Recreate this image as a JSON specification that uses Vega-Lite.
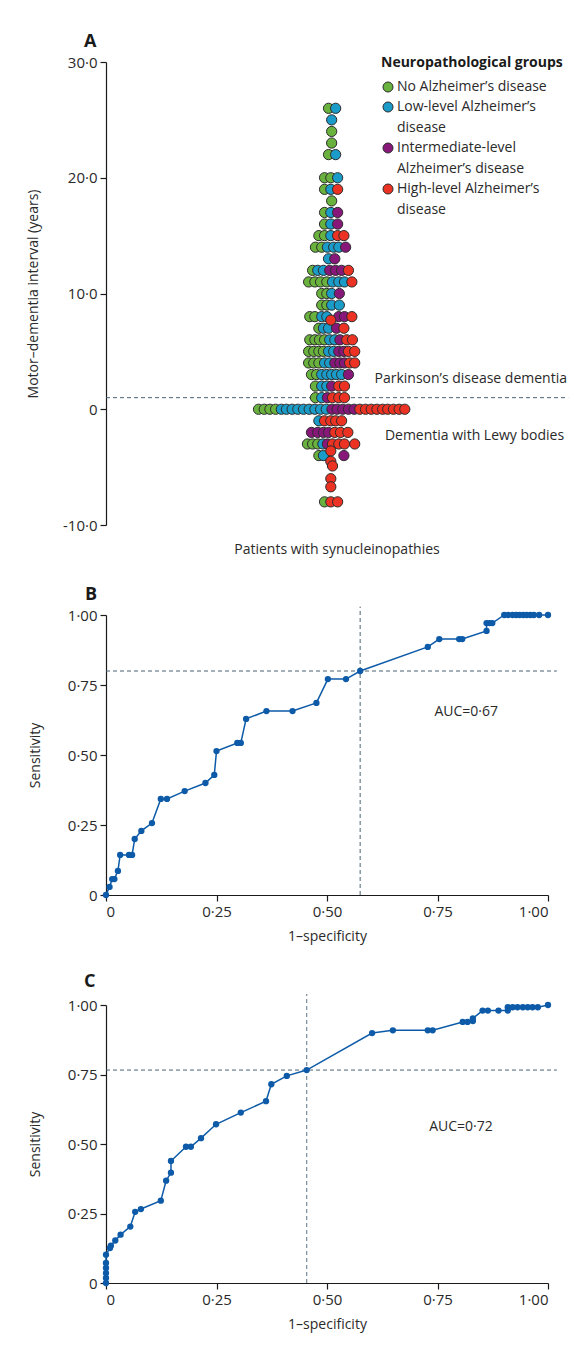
{
  "$schema": "https://vega.github.io/schema/vega-lite/v6.json",
  "background": "white",
  "padding": {"left": 26, "top": 33, "right": 5, "bottom": 5},
  "spacing": 30,
  "config": {
    "font": "Open Sans",
    "view": {"stroke": null},
    "axis": {"grid": false, "domainColor": "#1a1a1a", "tickColor": "#1a1a1a", "labelColor": "#2a2a2a", "titleColor": "#2a2a2a", "labelFontSize": 15, "titleFontSize": 14, "titleFontWeight": "normal", "tickSize": 6, "labelPadding": 3, "domainWidth": 1.2, "tickWidth": 1.2},
    "title": {"fontSize": 18, "fontWeight": "bold", "color": "#1a1a1a", "anchor": "start", "frame": "group"}
  },
  "vconcat": [
    {
      "width": 461,
      "height": 463,
      "title": {"text": "A", "dx": -22, "offset": 4},
      "data": {"values": [
        {"year": 26, "slot": -0.9, "group": "none"}, {"year": 26, "slot": 0.35, "group": "low"},
        {"year": 25, "slot": -0.35, "group": "low"},
        {"year": 24, "slot": -0.35, "group": "none"},
        {"year": 23, "slot": -0.35, "group": "none"},
        {"year": 22, "slot": -0.9, "group": "none"}, {"year": 22, "slot": 0.35, "group": "low"},
        {"year": 20, "slot": -1.6, "group": "none"}, {"year": 20, "slot": -0.5, "group": "none"}, {"year": 20, "slot": 0.7, "group": "low"},
        {"year": 19, "slot": -1.6, "group": "none"}, {"year": 19, "slot": -0.5, "group": "low"}, {"year": 19, "slot": 0.7, "group": "high"},
        {"year": 18, "slot": -0.35, "group": "none"},
        {"year": 17, "slot": -1.6, "group": "none"}, {"year": 17, "slot": -0.5, "group": "low"}, {"year": 17, "slot": 0.7, "group": "intermediate"},
        {"year": 16, "slot": -1.6, "group": "none"}, {"year": 16, "slot": -0.5, "group": "low"}, {"year": 16, "slot": 0.7, "group": "intermediate"},
        {"year": 15, "slot": -2.6, "group": "none"}, {"year": 15, "slot": -1.6, "group": "none"}, {"year": 15, "slot": -0.5, "group": "low"}, {"year": 15, "slot": 0.7, "group": "high"}, {"year": 15, "slot": 1.8, "group": "high"},
        {"year": 14, "slot": -3.2, "group": "none"}, {"year": 14, "slot": -2.1, "group": "none"}, {"year": 14, "slot": -1.1, "group": "low"}, {"year": 14, "slot": 0, "group": "low"}, {"year": 14, "slot": 0.9, "group": "low"}, {"year": 14, "slot": 2.1, "group": "intermediate"},
        {"year": 13, "slot": -0.9, "group": "low"}, {"year": 13, "slot": 0.2, "group": "intermediate"},
        {"year": 12, "slot": -3.7, "group": "none"}, {"year": 12, "slot": -2.8, "group": "low"}, {"year": 12, "slot": -1.8, "group": "low"}, {"year": 12, "slot": -0.7, "group": "intermediate"}, {"year": 12, "slot": 0.35, "group": "intermediate"}, {"year": 12, "slot": 1.4, "group": "intermediate"}, {"year": 12, "slot": 2.6, "group": "high"},
        {"year": 11, "slot": -4.4, "group": "none"}, {"year": 11, "slot": -3.3, "group": "none"}, {"year": 11, "slot": -2.3, "group": "none"}, {"year": 11, "slot": -1.2, "group": "none"}, {"year": 11, "slot": -0.2, "group": "low"}, {"year": 11, "slot": 0.9, "group": "low"}, {"year": 11, "slot": 1.9, "group": "low"}, {"year": 11, "slot": 3.2, "group": "high"},
        {"year": 10, "slot": -2.1, "group": "none"}, {"year": 10, "slot": -1.2, "group": "none"}, {"year": 10, "slot": -0.35, "group": "low"}, {"year": 10, "slot": 1.0, "group": "intermediate"},
        {"year": 9, "slot": -2.1, "group": "none"}, {"year": 9, "slot": -1.2, "group": "none"}, {"year": 9, "slot": -0.35, "group": "low"}, {"year": 9, "slot": 1.0, "group": "low"},
        {"year": 8, "slot": -4.2, "group": "none"}, {"year": 8, "slot": -3.3, "group": "none"}, {"year": 8, "slot": -2.1, "group": "low"}, {"year": 8, "slot": -1.2, "group": "low"}, {"year": 8, "slot": 0.9, "group": "intermediate"}, {"year": 8, "slot": 1.9, "group": "intermediate"}, {"year": 8, "slot": 3.2, "group": "high"},
        {"year": 7, "slot": -2.6, "group": "none"}, {"year": 7, "slot": -1.8, "group": "low"}, {"year": 7, "slot": -0.9, "group": "low"}, {"year": 7, "slot": 0.5, "group": "intermediate"}, {"year": 7, "slot": 1.8, "group": "high"},
        {"year": 6, "slot": -4.2, "group": "none"}, {"year": 6, "slot": -3.3, "group": "none"}, {"year": 6, "slot": -2.5, "group": "none"}, {"year": 6, "slot": -1.6, "group": "none"}, {"year": 6, "slot": -0.7, "group": "low"}, {"year": 6, "slot": 0.2, "group": "low"}, {"year": 6, "slot": 1.1, "group": "intermediate"}, {"year": 6, "slot": 2.3, "group": "high"}, {"year": 6, "slot": 3.3, "group": "high"},
        {"year": 5, "slot": -4.4, "group": "none"}, {"year": 5, "slot": -3.5, "group": "none"}, {"year": 5, "slot": -2.6, "group": "none"}, {"year": 5, "slot": -1.8, "group": "none"}, {"year": 5, "slot": -0.9, "group": "low"}, {"year": 5, "slot": 0, "group": "low"}, {"year": 5, "slot": 0.9, "group": "intermediate"}, {"year": 5, "slot": 1.8, "group": "intermediate"}, {"year": 5, "slot": 2.6, "group": "high"}, {"year": 5, "slot": 3.7, "group": "high"},
        {"year": 4, "slot": -4.4, "group": "none"}, {"year": 4, "slot": -3.5, "group": "none"}, {"year": 4, "slot": -2.6, "group": "none"}, {"year": 4, "slot": -1.6, "group": "low"}, {"year": 4, "slot": -0.7, "group": "low"}, {"year": 4, "slot": 0.2, "group": "intermediate"}, {"year": 4, "slot": 1.1, "group": "intermediate"}, {"year": 4, "slot": 1.9, "group": "intermediate"}, {"year": 4, "slot": 2.8, "group": "high"}, {"year": 4, "slot": 3.7, "group": "high"},
        {"year": 3, "slot": -3.9, "group": "none"}, {"year": 3, "slot": -3.0, "group": "none"}, {"year": 3, "slot": -2.1, "group": "low"}, {"year": 3, "slot": -1.2, "group": "low"}, {"year": 3, "slot": -0.35, "group": "low"}, {"year": 3, "slot": 0.5, "group": "low"}, {"year": 3, "slot": 1.4, "group": "low"}, {"year": 3, "slot": 2.6, "group": "intermediate"},
        {"year": 2, "slot": -3.2, "group": "none"}, {"year": 2, "slot": -2.1, "group": "low"}, {"year": 2, "slot": -1.2, "group": "low"}, {"year": 2, "slot": -0.35, "group": "intermediate"}, {"year": 2, "slot": 0.9, "group": "high"}, {"year": 2, "slot": 1.9, "group": "high"},
        {"year": 1, "slot": -3.2, "group": "none"}, {"year": 1, "slot": -2.1, "group": "low"}, {"year": 1, "slot": -1.1, "group": "intermediate"}, {"year": 1, "slot": -0.2, "group": "high"}, {"year": 1, "slot": 0.9, "group": "high"}, {"year": 1, "slot": 1.9, "group": "high"},
        {"year": 0, "slot": -13.2, "group": "none"}, {"year": 0, "slot": -12.2, "group": "none"}, {"year": 0, "slot": -11.2, "group": "none"}, {"year": 0, "slot": -10.2, "group": "none"},
        {"year": 0, "slot": -9.2, "group": "low"}, {"year": 0, "slot": -8.3, "group": "low"}, {"year": 0, "slot": -7.3, "group": "low"}, {"year": 0, "slot": -6.3, "group": "low"}, {"year": 0, "slot": -5.3, "group": "low"}, {"year": 0, "slot": -4.3, "group": "low"}, {"year": 0, "slot": -3.3, "group": "low"}, {"year": 0, "slot": -2.3, "group": "low"}, {"year": 0, "slot": -1.3, "group": "low"},
        {"year": 0, "slot": -0.3, "group": "intermediate"}, {"year": 0, "slot": 0.6, "group": "intermediate"}, {"year": 0, "slot": 1.6, "group": "intermediate"}, {"year": 0, "slot": 2.6, "group": "intermediate"}, {"year": 0, "slot": 3.6, "group": "intermediate"},
        {"year": 0, "slot": 4.6, "group": "high"}, {"year": 0, "slot": 5.6, "group": "high"}, {"year": 0, "slot": 6.6, "group": "high"}, {"year": 0, "slot": 7.6, "group": "high"}, {"year": 0, "slot": 8.6, "group": "high"}, {"year": 0, "slot": 9.5, "group": "high"}, {"year": 0, "slot": 10.5, "group": "high"}, {"year": 0, "slot": 11.5, "group": "high"}, {"year": 0, "slot": 12.5, "group": "high"},
        {"year": -1, "slot": -2.6, "group": "low"}, {"year": -1, "slot": -1.6, "group": "high"}, {"year": -1, "slot": -0.5, "group": "high"}, {"year": -1, "slot": 0.35, "group": "high"}, {"year": -1, "slot": 1.4, "group": "high"},
        {"year": -2, "slot": -3.9, "group": "intermediate"}, {"year": -2, "slot": -2.8, "group": "intermediate"}, {"year": -2, "slot": -1.8, "group": "intermediate"}, {"year": -2, "slot": -0.9, "group": "intermediate"}, {"year": -2, "slot": 0.2, "group": "high"}, {"year": -2, "slot": 1.2, "group": "high"}, {"year": -2, "slot": 2.5, "group": "high"},
        {"year": -3, "slot": -4.6, "group": "none"}, {"year": -3, "slot": -3.7, "group": "none"}, {"year": -3, "slot": -2.8, "group": "none"}, {"year": -3, "slot": -1.9, "group": "low"}, {"year": -3, "slot": -1.1, "group": "intermediate"}, {"year": -3, "slot": -0.2, "group": "high"}, {"year": -3, "slot": 0.9, "group": "high"}, {"year": -3, "slot": 1.9, "group": "high"}, {"year": -3, "slot": 3.7, "group": "high"},
        {"year": -4, "slot": -2.6, "group": "none"}, {"year": -4, "slot": -1.8, "group": "low"}, {"year": -4, "slot": 1.8, "group": "intermediate"},
        {"year": -8, "slot": -1.6, "group": "none"}, {"year": -8, "slot": -0.5, "group": "high"}, {"year": -8, "slot": 0.7, "group": "high"},
        {"year": 7.7, "slot": -0.5, "group": "high"},
        {"year": -3.6, "slot": -0.5, "group": "high"}, {"year": -4.5, "slot": -0.5, "group": "high"}, {"year": -4.9, "slot": -0.2, "group": "high"}, {"year": -6.0, "slot": -0.5, "group": "high"}, {"year": -6.7, "slot": -0.5, "group": "high"}
      ]},
      "layer": [
        {
          "data": {"values": [{}]},
          "mark": {"type": "rule", "strokeDash": [4, 3], "color": "#4a6273", "strokeWidth": 1},
          "encoding": {"y": {"datum": 1, "type": "quantitative"}, "x": {"datum": -40, "type": "quantitative"}, "x2": {"datum": 41.2}}
        },
        {
          "data": {"values": [{}]},
          "mark": {"type": "text", "align": "right", "baseline": "middle", "fontSize": 14, "color": "#2a2a2a"},
          "encoding": {"x": {"datum": 41, "type": "quantitative"}, "y": {"datum": 2.6, "type": "quantitative"}, "text": {"value": "Parkinson’s disease dementia"}}
        },
        {
          "data": {"values": [{}]},
          "mark": {"type": "text", "align": "right", "baseline": "middle", "fontSize": 14, "color": "#2a2a2a"},
          "encoding": {"x": {"datum": 40.5, "type": "quantitative"}, "y": {"datum": -2.33, "type": "quantitative"}, "text": {"value": "Dementia with Lewy bodies"}}
        },
        {
          "mark": {"type": "circle", "size": 105, "stroke": "#2b2b2b", "strokeWidth": 1, "opacity": 1},
          "encoding": {
            "x": {"field": "slot", "type": "quantitative", "scale": {"domain": [-40, 41], "nice": false, "zero": false},
                  "axis": {"title": "Patients with synucleinopathies", "domain": false, "ticks": false, "labels": false, "titlePadding": 17}},
            "y": {"field": "year", "type": "quantitative", "scale": {"domain": [-10, 30], "nice": false},
                  "axis": {"values": [-10, 0, 10, 20, 30], "labelExpr": "datum.value == 0 ? '0' : (datum.value < 0 ? '-' : '') + replace(format(abs(datum.value), '.1f'), '.', '·')", "title": "Motor–dementia interval (years)", "titlePadding": 22}},
            "color": {"field": "group", "type": "nominal",
                      "scale": {"domain": ["none", "low", "intermediate", "high"], "range": ["#6ab23e", "#1b9bc8", "#87187a", "#ec3323"]},
                      "legend": {"title": "Neuropathological groups", "orient": "none", "legendX": 275, "legendY": -6,
                                 "titleFontSize": 14, "titleFontWeight": "bold", "titleColor": "#1a1a1a", "titlePadding": 10, "titleLimit": 400,
                                 "labelFontSize": 14, "labelColor": "#2a2a2a", "labelLimit": 300, "labelOffset": 2,
                                 "symbolType": "circle", "symbolSize": 100, "symbolStrokeColor": "#2b2b2b", "symbolStrokeWidth": 1, "symbolOpacity": 1, "rowPadding": 6,
                                 "encode": {"labels": {"update": {"lineHeight": {"value": 20.8}}}},
                                 "labelExpr": "datum.label == 'none' ? 'No Alzheimer’s disease' : datum.label == 'low' ? ['Low-level Alzheimer’s', 'disease'] : datum.label == 'intermediate' ? ['Intermediate-level', 'Alzheimer’s disease'] : ['High-level Alzheimer’s', 'disease']"}}
          }
        }
      ]
    },
    {
      "width": 442,
      "height": 280,
      "title": {"text": "B", "dx": -21, "offset": 2},
      "data": {"values": [
        {"fpr": 0, "sens": 0}, {"fpr": 0.008, "sens": 0.029}, {"fpr": 0.014, "sens": 0.057}, {"fpr": 0.019, "sens": 0.057}, {"fpr": 0.027, "sens": 0.086},
        {"fpr": 0.032, "sens": 0.143}, {"fpr": 0.052, "sens": 0.143}, {"fpr": 0.059, "sens": 0.143}, {"fpr": 0.065, "sens": 0.2}, {"fpr": 0.08, "sens": 0.229},
        {"fpr": 0.104, "sens": 0.257}, {"fpr": 0.124, "sens": 0.343}, {"fpr": 0.138, "sens": 0.343}, {"fpr": 0.178, "sens": 0.371}, {"fpr": 0.225, "sens": 0.4},
        {"fpr": 0.245, "sens": 0.429}, {"fpr": 0.25, "sens": 0.514}, {"fpr": 0.297, "sens": 0.543}, {"fpr": 0.305, "sens": 0.543}, {"fpr": 0.317, "sens": 0.629},
        {"fpr": 0.363, "sens": 0.657}, {"fpr": 0.422, "sens": 0.657}, {"fpr": 0.476, "sens": 0.686}, {"fpr": 0.502, "sens": 0.771}, {"fpr": 0.543, "sens": 0.771},
        {"fpr": 0.575, "sens": 0.8}, {"fpr": 0.728, "sens": 0.886}, {"fpr": 0.754, "sens": 0.914}, {"fpr": 0.799, "sens": 0.914}, {"fpr": 0.806, "sens": 0.914},
        {"fpr": 0.861, "sens": 0.943}, {"fpr": 0.861, "sens": 0.971}, {"fpr": 0.868, "sens": 0.971}, {"fpr": 0.874, "sens": 0.971},
        {"fpr": 0.901, "sens": 1}, {"fpr": 0.91, "sens": 1}, {"fpr": 0.92, "sens": 1}, {"fpr": 0.928, "sens": 1}, {"fpr": 0.936, "sens": 1}, {"fpr": 0.944, "sens": 1},
        {"fpr": 0.952, "sens": 1}, {"fpr": 0.96, "sens": 1}, {"fpr": 0.968, "sens": 1}, {"fpr": 0.98, "sens": 1}, {"fpr": 1.0, "sens": 1}
      ]},
      "layer": [
        {
          "data": {"values": [{}]},
          "mark": {"type": "rule", "strokeDash": [4, 3], "color": "#4a6273", "strokeWidth": 1},
          "encoding": {"y": {"datum": 0.8, "type": "quantitative"}, "x": {"datum": 0, "type": "quantitative"}, "x2": {"datum": 1.02}}
        },
        {
          "data": {"values": [{}]},
          "mark": {"type": "rule", "strokeDash": [4, 3], "color": "#4a6273", "strokeWidth": 1},
          "encoding": {"x": {"datum": 0.575, "type": "quantitative"}, "y": {"datum": 0, "type": "quantitative"}, "y2": {"datum": 1.03}}
        },
        {
          "data": {"values": [{}]},
          "mark": {"type": "text", "align": "center", "baseline": "middle", "fontSize": 14, "color": "#2a2a2a"},
          "encoding": {"x": {"datum": 0.815, "type": "quantitative"}, "y": {"datum": 0.654, "type": "quantitative"}, "text": {"value": "AUC=0·67"}}
        },
        {
          "mark": {"type": "line", "color": "#0d5ba8", "strokeWidth": 1.5},
          "encoding": {
            "x": {"field": "fpr", "type": "quantitative", "scale": {"domain": [0, 1], "nice": false},
                  "axis": {"values": [0, 0.25, 0.5, 0.75, 1], "labelExpr": "datum.value == 0 ? '0' : replace(format(datum.value, '.2f'), '.', '·')", "title": "1–specificity", "titlePadding": 10}},
            "y": {"field": "sens", "type": "quantitative", "scale": {"domain": [0, 1], "nice": false},
                  "axis": {"values": [0, 0.25, 0.5, 0.75, 1], "labelExpr": "datum.value == 0 ? '0' : replace(format(datum.value, '.2f'), '.', '·')", "title": "Sensitivity", "titlePadding": 25}},
            "order": [{"field": "sens", "type": "quantitative"}, {"field": "fpr", "type": "quantitative"}]
          }
        },
        {
          "mark": {"type": "circle", "size": 40, "color": "#0d5ba8", "opacity": 1},
          "encoding": {"x": {"field": "fpr", "type": "quantitative"}, "y": {"field": "sens", "type": "quantitative"}}
        }
      ]
    },
    {
      "width": 442,
      "height": 278,
      "title": {"text": "C", "dx": -22, "dy": -2, "offset": 0},
      "data": {"values": [
        {"fpr": 0, "sens": 0}, {"fpr": 0, "sens": 0.018}, {"fpr": 0, "sens": 0.036}, {"fpr": 0, "sens": 0.054}, {"fpr": 0, "sens": 0.072}, {"fpr": 0, "sens": 0.102},
        {"fpr": 0.009, "sens": 0.126}, {"fpr": 0.011, "sens": 0.134}, {"fpr": 0.021, "sens": 0.153}, {"fpr": 0.033, "sens": 0.174}, {"fpr": 0.055, "sens": 0.203},
        {"fpr": 0.066, "sens": 0.256}, {"fpr": 0.079, "sens": 0.266}, {"fpr": 0.124, "sens": 0.296}, {"fpr": 0.136, "sens": 0.368}, {"fpr": 0.147, "sens": 0.397},
        {"fpr": 0.147, "sens": 0.439}, {"fpr": 0.181, "sens": 0.49}, {"fpr": 0.192, "sens": 0.49}, {"fpr": 0.215, "sens": 0.521}, {"fpr": 0.249, "sens": 0.571},
        {"fpr": 0.305, "sens": 0.613}, {"fpr": 0.362, "sens": 0.654}, {"fpr": 0.374, "sens": 0.715}, {"fpr": 0.409, "sens": 0.745}, {"fpr": 0.454, "sens": 0.766},
        {"fpr": 0.602, "sens": 0.899}, {"fpr": 0.649, "sens": 0.909}, {"fpr": 0.728, "sens": 0.909}, {"fpr": 0.739, "sens": 0.909},
        {"fpr": 0.807, "sens": 0.939}, {"fpr": 0.818, "sens": 0.939}, {"fpr": 0.83, "sens": 0.942}, {"fpr": 0.83, "sens": 0.952},
        {"fpr": 0.852, "sens": 0.98}, {"fpr": 0.864, "sens": 0.98}, {"fpr": 0.888, "sens": 0.98}, {"fpr": 0.909, "sens": 0.98}, {"fpr": 0.909, "sens": 0.992},
        {"fpr": 0.92, "sens": 0.992}, {"fpr": 0.931, "sens": 0.992}, {"fpr": 0.943, "sens": 0.992}, {"fpr": 0.954, "sens": 0.992}, {"fpr": 0.965, "sens": 0.992}, {"fpr": 0.977, "sens": 0.992},
        {"fpr": 1.0, "sens": 1.0}
      ]},
      "layer": [
        {
          "data": {"values": [{}]},
          "mark": {"type": "rule", "strokeDash": [4, 3], "color": "#4a6273", "strokeWidth": 1},
          "encoding": {"y": {"datum": 0.766, "type": "quantitative"}, "x": {"datum": 0, "type": "quantitative"}, "x2": {"datum": 1.02}}
        },
        {
          "data": {"values": [{}]},
          "mark": {"type": "rule", "strokeDash": [4, 3], "color": "#7a8c99", "strokeWidth": 1.2},
          "encoding": {"x": {"datum": 0.454, "type": "quantitative"}, "y": {"datum": 0, "type": "quantitative"}, "y2": {"datum": 1.04}}
        },
        {
          "data": {"values": [{}]},
          "mark": {"type": "text", "align": "center", "baseline": "middle", "fontSize": 14, "color": "#2a2a2a"},
          "encoding": {"x": {"datum": 0.803, "type": "quantitative"}, "y": {"datum": 0.561, "type": "quantitative"}, "text": {"value": "AUC=0·72"}}
        },
        {
          "mark": {"type": "line", "color": "#0d5ba8", "strokeWidth": 1.5},
          "encoding": {
            "x": {"field": "fpr", "type": "quantitative", "scale": {"domain": [0, 1], "nice": false},
                  "axis": {"values": [0, 0.25, 0.5, 0.75, 1], "labelExpr": "datum.value == 0 ? '0' : replace(format(datum.value, '.2f'), '.', '·')", "title": "1–specificity", "titlePadding": 10}},
            "y": {"field": "sens", "type": "quantitative", "scale": {"domain": [0, 1], "nice": false},
                  "axis": {"values": [0, 0.25, 0.5, 0.75, 1], "labelExpr": "datum.value == 0 ? '0' : replace(format(datum.value, '.2f'), '.', '·')", "title": "Sensitivity", "titlePadding": 25}},
            "order": [{"field": "sens", "type": "quantitative"}, {"field": "fpr", "type": "quantitative"}]
          }
        },
        {
          "mark": {"type": "circle", "size": 40, "color": "#0d5ba8", "opacity": 1},
          "encoding": {"x": {"field": "fpr", "type": "quantitative"}, "y": {"field": "sens", "type": "quantitative"}}
        }
      ]
    }
  ]
}
